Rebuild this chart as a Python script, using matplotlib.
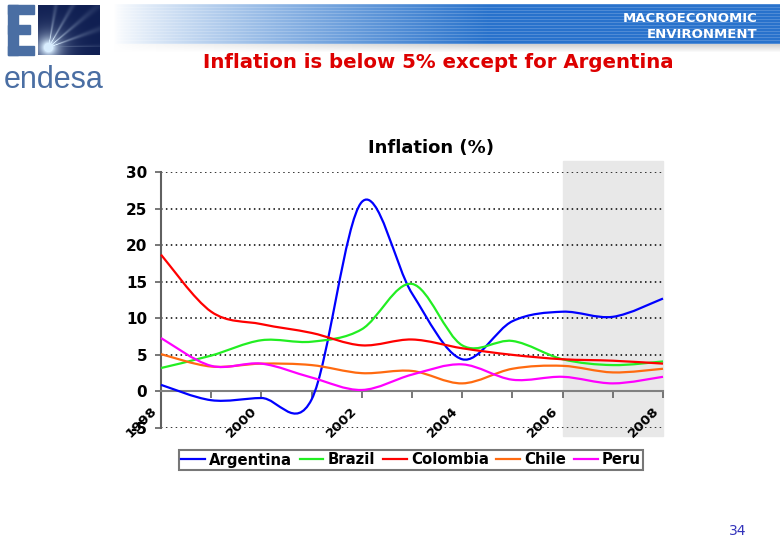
import numpy as np
import matplotlib
matplotlib.use("Agg")
import matplotlib.pyplot as plt
import matplotlib.transforms as mtransforms
from matplotlib.path import Path
from matplotlib.patches import PathPatch, Rectangle
from matplotlib.lines import Line2D

# yearly inflation (%)
years = [1998, 1999, 2000, 2001, 2002, 2003, 2004, 2005, 2006, 2007, 2008]
argentina = [0.9, -1.2, -0.9, -1.1, 25.9, 13.4, 4.4, 9.6, 10.9, 10.2, 12.7]
brazil = [3.2, 4.9, 7.0, 6.8, 8.5, 14.7, 6.3, 6.9, 4.4, 3.6, 4.1]
colombia = [18.7, 10.9, 9.2, 8.0, 6.3, 7.1, 5.9, 5.0, 4.4, 4.2, 3.8]
chile = [5.1, 3.4, 3.8, 3.6, 2.5, 2.8, 1.1, 3.1, 3.5, 2.6, 3.1]
peru = [7.3, 3.5, 3.8, 1.9, 0.2, 2.3, 3.7, 1.6, 2.0, 1.1, 2.0]

series_names = ["Argentina", "Brazil", "Colombia", "Chile", "Peru"]
series_colors = ["#0000ff", "#22ee22", "#ff0000", "#ff6a10", "#ff00ff"]
yticks = [-5, 0, 5, 10, 15, 20, 25, 30]
xlabels = ["1998", "2000", "2002", "2004", "2006", "2008"]
forecast_start = 2006


def smooth_path(xs, ys):
    # excel-like smoothed line: cubic bezier segments through the points
    p = np.column_stack([xs, ys]).astype(float)
    n = len(p)
    verts = [p[0]]
    codes = [Path.MOVETO]
    for i in range(n - 1):
        prev = p[max(i - 1, 0)]
        nxt = p[min(i + 2, n - 1)]
        c1 = p[i] + (p[i + 1] - prev) / 6.0
        c2 = p[i + 1] - (nxt - p[i]) / 6.0
        verts += [c1, c2, p[i + 1]]
        codes += [Path.CURVE4] * 3
    return Path(verts, codes)


fig = plt.figure(figsize=(7.8, 5.4), dpi=100)
fig.patch.set_facecolor("white")

# ---- header decoration (pixel coords) ----
deco = fig.add_axes([0, 0, 1, 1], zorder=-5)
deco.set_xlim(0, 780)
deco.set_ylim(540, 0)
deco.axis("off")

w, h = 680, 40
xx = np.linspace(0, 1, w)
alpha = np.clip((xx - 0.02) / 0.55, 0, 1) ** 0.8
band = np.ones((h, w, 3))
blue = np.array([0.16, 0.45, 0.80])
rows = np.arange(h)
stripe = np.where(rows % 3 == 0, 0.18, 0.0)
for r in range(h):
    a = alpha * (1 - stripe[r])
    band[r] = (1 - a)[:, None] * np.ones(3) + a[:, None] * blue
deco.imshow(band, extent=(100, 780, 44, 4), aspect="auto", zorder=1)
# soft shadow under the band
shadow = np.ones((8, w, 3))
for r in range(8):
    g = 1 - 0.18 * alpha * (1 - r / 8)
    shadow[r] = g[:, None] * np.ones(3)
deco.imshow(shadow, extent=(100, 780, 52, 44), aspect="auto", zorder=1)

# logo: E + dark square with a glow
logo_c = "#4a6ea3"
deco.add_patch(Rectangle((8, 5), 10, 50, color=logo_c, zorder=2))
deco.add_patch(Rectangle((8, 5), 26, 9, color=logo_c, zorder=2))
deco.add_patch(Rectangle((8, 25), 22, 9, color=logo_c, zorder=2))
deco.add_patch(Rectangle((8, 46), 26, 9, color=logo_c, zorder=2))
gy, gx = np.mgrid[0:50, 0:62]
dx, dy = gx - 10.0, 42.0 - gy
d = np.hypot(dx, dy) + 1e-6
ang = np.arctan2(dy, dx)
rays = np.clip(np.cos(ang * 9) ** 8, 0, 1) * (ang > 0) * (ang < 1.6)
glow = np.clip(np.exp(-d / 9) * 1.6 + rays * np.exp(-d / 30) * 0.6, 0, 1)
navy = np.array([0.06, 0.12, 0.32])
light = np.array([0.85, 0.93, 1.0])
sq = navy[None, None, :] * (1 - glow[..., None]) + light[None, None, :] * glow[..., None]
deco.imshow(sq, extent=(38, 100, 55, 5), aspect="auto", zorder=2)
deco.text(4, 88, "endesa", color=logo_c, fontsize=22, family="Liberation Sans",
          ha="left", va="baseline", zorder=3)

deco.text(757, 18, "MACROECONOMIC", color="white", fontsize=9.5, weight="bold",
          ha="right", va="center", zorder=3)
deco.text(757, 34, "ENVIRONMENT", color="white", fontsize=9.5, weight="bold",
          ha="right", va="center", zorder=3)
deco.text(438, 63, "Inflation is below 5% except for Argentina", color="#dd0000",
          fontsize=14.2, weight="bold", ha="center", va="center", zorder=3)
deco.text(738, 531, "34", color="#3333bb", fontsize=10, ha="center", va="center", zorder=3)
fig.text(431 / 780, 1 - 148 / 540, "Inflation (%)", fontsize=13, weight="bold",
         ha="center", va="center")

# ---- chart ----
ax = fig.add_axes([161 / 780, 1 - 428 / 540, 502 / 780, 256 / 540])
ax.patch.set_alpha(0)
ax.set_xlim(1998, 2008)
ax.set_ylim(-5, 30)

for s in ["top", "right"]:
    ax.spines[s].set_visible(False)
ax.spines["bottom"].set_position(("data", 0))
ax.spines["bottom"].set_color("#808080")
ax.spines["bottom"].set_linewidth(1.5)
ax.spines["left"].set_color("#606060")
ax.spines["left"].set_linewidth(1.5)

ax.add_patch(Rectangle((forecast_start, -6.15), 2008 - forecast_start, 37.6,
                       color="#e8e8e8", clip_on=False, zorder=0))

all_series = [argentina, brazil, colombia, chile, peru]
handles = []
for name, vals, col in zip(series_names, all_series, series_colors):
    ax.add_patch(PathPatch(smooth_path(years, vals), fill=False, edgecolor=col,
                           lw=1.6, zorder=3, clip_on=False))
    handles.append(Line2D([], [], color=col, lw=1.6, label=name))

ax.set_yticks(yticks)
ax.set_yticklabels([str(v) for v in yticks], fontsize=11, weight="bold")
ax.set_xticks(years)
ax.set_xticklabels([str(y) if str(y) in xlabels else "" for y in years],
                   fontsize=9.7, weight="bold", rotation=45, ha="right",
                   va="top", rotation_mode="anchor")
ax.yaxis.grid(True, linestyle=(0, (1, 2.2)), color="black", lw=1.1)
ax.set_axisbelow(True)
ax.tick_params(axis="x", direction="out", length=5, width=1.2, color="#606060", pad=4)
ax.tick_params(axis="y", direction="out", length=4, width=1.2, color="#606060", pad=6)

# shift the rotated year labels so they end just left of their tick
shift = mtransforms.ScaledTranslation(-11 / 100, 0, fig.dpi_scale_trans)
for lbl in ax.get_xticklabels():
    lbl.set_transform(lbl.get_transform() + shift)

leg = fig.legend(handles=handles, loc="center", ncol=5,
                 bbox_to_anchor=(411 / 780, 1 - 460 / 540),
                 prop={"weight": "bold", "size": 10.7}, frameon=True, fancybox=False,
                 handlelength=1.6, handletextpad=0.3, columnspacing=0.5,
                 borderpad=0.15, borderaxespad=0)
leg.get_frame().set_edgecolor("#555555")
leg.get_frame().set_linewidth(1.5)

fig.savefig("out.png", dpi=100)
